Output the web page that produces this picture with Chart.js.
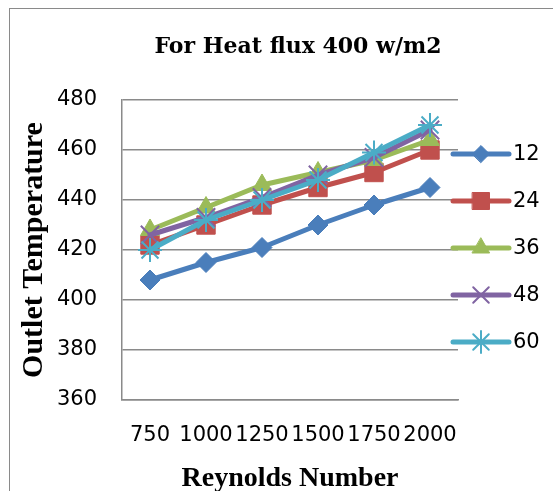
<!DOCTYPE html>
<html>
<head>
<meta charset="utf-8">
<script src="https://cdn.jsdelivr.net/npm/chart.js@4.4.1/dist/chart.umd.min.js"></script>
<style>
  html, body { margin: 0; padding: 0; background: #ffffff; }
  #wrap { position: relative; width: 553px; height: 491px; overflow: hidden; }
  #frame { position: absolute; left: 9px; top: 8px; width: 700px; height: 700px;
           border: 1.5px solid #8a8a8a; box-sizing: border-box; pointer-events: none; }
  canvas { position: absolute; left: 0; top: 0; }
</style>
</head>
<body>
<div id="wrap">
  <canvas id="c" width="553" height="491"></canvas>
  <div id="frame"></div>
</div>
<script>
// ---- data ----
const categories = ["750", "1000", "1250", "1500", "1750", "2000"];
const seriesNames = ["12", "24", "36", "48", "60"];
const s12 = [408, 415, 421, 430, 438, 445];
const s24 = [422, 430, 438, 445, 451, 460];
const s36 = [428, 437, 446, 451, 456, 464];
const s48 = [426, 433, 441, 450, 457, 468];
const s60 = [420, 432, 440, 448, 459, 470];
const yTicks = [360, 380, 400, 420, 440, 460, 480];
const chartTitle = "For Heat flux 400 w/m2";
const xTitle = "Reynolds Number";
const yTitle = "Outlet Temperature";

const seriesValues = [s12, s24, s36, s48, s60];
const colors = ["#4A7EBB", "#C0504D", "#9BBB59", "#8064A2", "#4BACC6"];
const markers = ["rectRot", "rect", "triangle", "crossRot", "star"];
const markerR = [10, 13, 11, 13, 12];
const legendR = [8.5, 12, 10, 11, 11];
const markerBW = [1, 1, 1, 2, 2];

const datasets = seriesNames.map((n, i) => ({
  label: n,
  data: seriesValues[i],
  borderColor: colors[i],
  backgroundColor: colors[i],
  borderWidth: 5,
  borderCapStyle: 'round',
  borderJoinStyle: 'round',
  pointStyle: markers[i],
  pointRadius: markerR[i],
  pointHoverRadius: markerR[i],
  pointBorderWidth: markerBW[i],
  pointBackgroundColor: colors[i],
  pointBorderColor: colors[i],
  tension: 0,
  order: seriesNames.length - i
}));

const titlePlugin = {
  id: 'customTitle',
  afterDraw(chart) {
    const ctx = chart.ctx;
    ctx.save();
    ctx.font = 'bold 22px "DejaVu Serif"';
    ctx.fillStyle = '#000';
    ctx.textAlign = 'center';
    ctx.textBaseline = 'middle';
    ctx.fillText(chartTitle, 298, 47);
    ctx.restore();
  }
};

const legendPlugin = {
  id: 'customLegend',
  afterDraw(chart) {
    const ctx = chart.ctx;
    const x0 = 453, x1 = 509, y0 = 154, dy = 47;
    chart.data.datasets.forEach((ds, i) => {
      const y = y0 + i * dy;
      ctx.save();
      ctx.strokeStyle = ds.borderColor;
      ctx.lineWidth = 5;
      ctx.lineCap = 'round';
      ctx.beginPath();
      ctx.moveTo(x0, y);
      ctx.lineTo(x1, y);
      ctx.stroke();
      ctx.fillStyle = ds.pointBackgroundColor;
      ctx.strokeStyle = ds.pointBorderColor;
      ctx.lineWidth = ds.pointBorderWidth;
      Chart.helpers.drawPoint(ctx, { pointStyle: ds.pointStyle, rotation: 0, radius: legendR[i], borderWidth: ds.pointBorderWidth }, (x0 + x1) / 2, y);
      ctx.fillStyle = '#000';
      ctx.font = '21px "DejaVu Sans"';
      ctx.textAlign = 'left';
      ctx.textBaseline = 'middle';
      ctx.fillText(ds.label, 513, y + 1);
      ctx.restore();
    });
  }
};

new Chart(document.getElementById('c'), {
  type: 'line',
  data: { labels: categories, datasets },
  plugins: [titlePlugin, legendPlugin],
  options: {
    responsive: false,
    devicePixelRatio: 1,
    animation: false,
    layout: { padding: { top: 100, right: 95, bottom: 0, left: 0 } },
    plugins: { legend: { display: false }, title: { display: false }, tooltip: { enabled: false } },
    scales: {
      x: {
        offset: true,
        grid: { display: false, drawTicks: false },
        border: { display: true, color: '#8a8a8a', width: 1.5 },
        ticks: { autoSkip: false, maxRotation: 0, minRotation: 0, padding: 23, color: '#000',
                 font: { family: 'DejaVu Sans', size: 21, lineHeight: 1.2 } },
        title: { display: true, text: xTitle, color: '#000', padding: { top: 0, bottom: 0 },
                 font: { family: 'Liberation Serif', size: 28, weight: 'bold', lineHeight: 0.9 } },
        afterFit(scale) { scale.height = 91; }
      },
      y: {
        min: 360, max: 480,
        afterBuildTicks(scale) { scale.ticks = yTicks.map(v => ({ value: v })); },
        grid: { color: '#8a8a8a', lineWidth: 1.5, drawTicks: false },
        border: { display: true, color: '#8a8a8a', width: 1.5 },
        ticks: { padding: 25, color: '#000', font: { family: 'DejaVu Sans', size: 21, lineHeight: 1.2 } },
        title: { display: true, text: yTitle, color: '#000', padding: { top: 18, bottom: 0 },
                 font: { family: 'Liberation Serif', size: 30, weight: 'bold', lineHeight: 1.1 } },
        afterFit(scale) { scale.width = 122; }
      }
    }
  }
});
</script>
</body>
</html>
